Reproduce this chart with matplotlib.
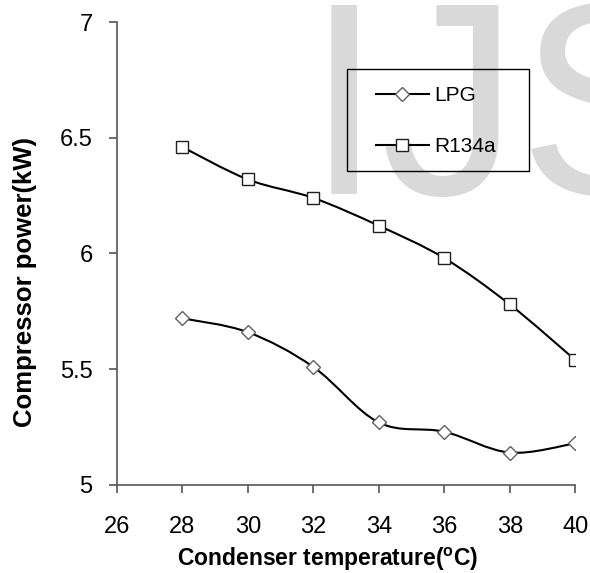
import numpy as np
import matplotlib
matplotlib.use("Agg")
import matplotlib.pyplot as plt
from matplotlib.path import Path
from matplotlib.patches import PathPatch, Rectangle
from matplotlib.lines import Line2D

plt.rcParams["font.family"] = ["Liberation Sans", "DejaVu Sans"]
plt.rcParams["mathtext.fontset"] = "custom"
plt.rcParams["mathtext.bf"] = "Liberation Sans:bold"
plt.rcParams["mathtext.rm"] = "Liberation Sans"

temp = [28, 30, 32, 34, 36, 38, 40]
lpg = [5.72, 5.66, 5.51, 5.27, 5.23, 5.14, 5.18]
r134a = [6.46, 6.32, 6.24, 6.12, 5.98, 5.78, 5.54]
names = ["LPG", "R134a"]


def smooth_path(x, y):
    # excel style smoothed line: cubic bezier, tangents from neighbours / 6
    p = np.column_stack([x, y]).astype(float)
    ext = np.vstack([p[0], p, p[-1]])
    verts = [p[0]]
    codes = [Path.MOVETO]
    for i in range(len(p) - 1):
        a, b, c, d = ext[i], ext[i + 1], ext[i + 2], ext[i + 3]
        verts += [b + (c - a) / 6, c - (d - b) / 6, c]
        codes += [Path.CURVE4] * 3
    return Path(verts, codes)


fig = plt.figure(figsize=(5.9, 5.73), dpi=100)
ax = fig.add_axes([0.198, 0.1536, 0.777, 0.808])

# watermark behind everything
ax.text(0.518, 0.661, "IJS", fontsize=198, color="#d9d9d9", zorder=0,
        ha="left", va="baseline", transform=fig.transFigure, clip_on=False)

styles = [("D", 7, "#606060"), ("s", 8, "#202020")]
for vals, (mk, ms, ec) in zip([lpg, r134a], styles):
    ax.add_patch(PathPatch(smooth_path(temp, vals), fill=False, lw=1.5,
                           color="black", zorder=2))
    ax.plot(temp, vals, ls="none", marker=mk, ms=ms, mfc="white", mec=ec,
            mew=1.0, zorder=3)

ax.set_xlim(26, 40)
ax.set_ylim(5, 7)
ax.set_xticks(range(26, 41, 2))
ax.set_yticks([5, 5.5, 6, 6.5, 7])
ax.set_yticklabels(["5", "5.5", "6", "6.5", "7"])
for s in ["top", "right"]:
    ax.spines[s].set_visible(False)
for s in ["left", "bottom"]:
    ax.spines[s].set_color("#555555")
    ax.spines[s].set_linewidth(1.2)
ax.tick_params(direction="out", length=6, width=1.2, color="#555555",
               labelsize=17)
ax.tick_params(axis="x", pad=16.5)
ax.tick_params(axis="y", pad=11.5)

ax.set_xlabel(r"Condenser temperature($\mathbf{^{o}}$C)", fontsize=16.5,
              fontweight="bold")
ax.xaxis.set_label_coords(0.461, -0.132)
ax.set_ylabel("Compressor power(kW)", fontsize=18.5, fontweight="bold")
ax.yaxis.set_label_coords(-0.175, 0.4385)

# legend box
ax.add_patch(Rectangle((0.502, 0.678), 0.398, 0.220, transform=ax.transAxes,
                       fill=False, ec="black", lw=1.0, zorder=4,
                       clip_on=False))
handles = [Line2D([], [], color="black", lw=1.5, marker=mk, ms=ms,
                  mfc="white", mec=ec) for mk, ms, ec in styles]
leg = ax.legend(handles, names, loc="upper left",
                bbox_to_anchor=(0.565, 0.862), fontsize=15, frameon=False,
                handlelength=2.55, handletextpad=0.25, labelspacing=1.55,
                borderpad=0, borderaxespad=0)
leg.set_zorder(5)

fig.savefig("out.png", dpi=100)
